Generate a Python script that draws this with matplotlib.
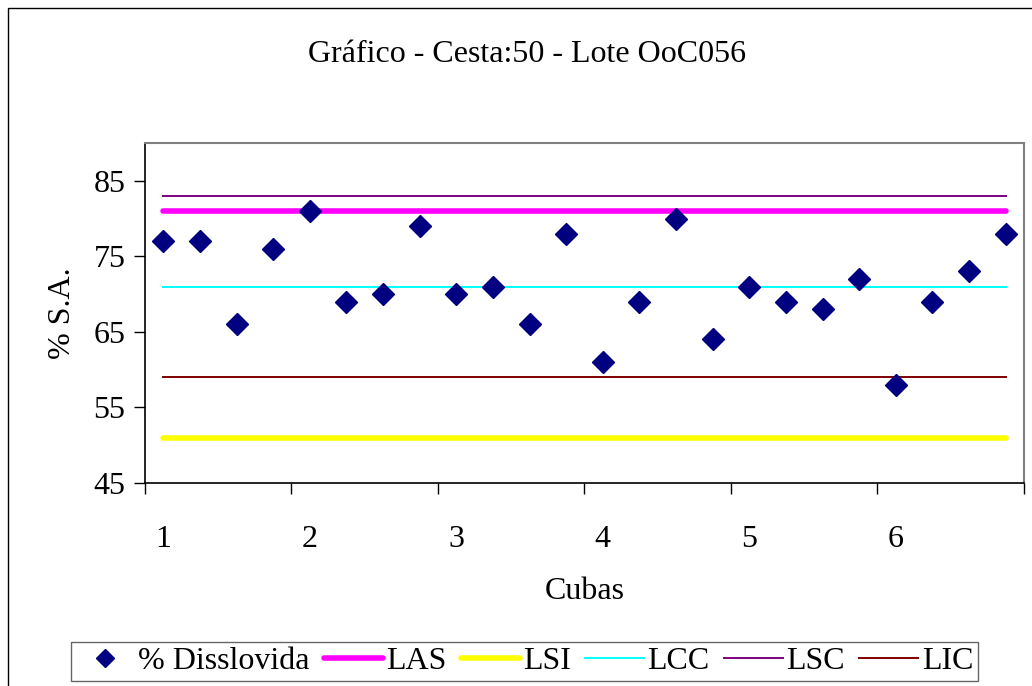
import numpy as np
import matplotlib.pyplot as plt
from matplotlib.patches import Rectangle

plt.rcParams['font.family'] = ['Liberation Serif', 'DejaVu Serif']

# Percentual dissolvido por cuba (24 cubas)
dissolvida = [77, 77, 66, 76, 81, 69, 70, 79, 70, 71, 66, 78,
              61, 69, 80, 64, 71, 69, 68, 72, 58, 69, 73, 78]
# Limites
LAS = 81
LSI = 51
LCC = 71
LSC = 83
LIC = 59
rotulos_x = ['1', '2', '3', '4', '5', '6']

n = len(dissolvida)
x = np.arange(n) + 0.5
ext = [x[0], x[-1]]

fs = 23

fig = plt.figure(figsize=(10.32, 6.86), dpi=100)
ax = fig.add_axes([0.1405, 0.2959, 0.8517, 0.4956])

ax.plot(x, dissolvida, linestyle='none', marker='D', markersize=11,
        color='#000080', label='% Disslovida', zorder=5)
ax.plot(ext, [LAS, LAS], color='#ff00ff', lw=4, solid_capstyle='round', label='LAS')
ax.plot(ext, [LSI, LSI], color='#ffff00', lw=4, solid_capstyle='round', label='LSI')
ax.plot(ext, [LCC, LCC], color='#00ffff', lw=1.4, label='LCC')
ax.plot(ext, [LSC, LSC], color='#800080', lw=1.4, label='LSC')
ax.plot(ext, [LIC, LIC], color='#800000', lw=1.4, label='LIC')

ax.set_xlim(0, n)
ax.set_ylim(45, 90)
ax.set_yticks([45, 55, 65, 75, 85])
ax.set_xticks(np.arange(0, n + 1, 4))
ax.set_xticklabels([])
ax.set_xticks(np.arange(0, n, 4) + 0.5, minor=True)
ax.set_xticklabels(rotulos_x, minor=True)
ax.tick_params(axis='x', which='minor', length=0, pad=30, labelsize=fs)
ax.tick_params(axis='x', which='major', length=8, width=1, direction='out')
ax.tick_params(axis='y', length=8, width=1, direction='out', labelsize=fs, pad=6)

for s in ['left', 'bottom']:
    ax.spines[s].set_color('black')
    ax.spines[s].set_linewidth(1.2)
for s in ['top', 'right']:
    ax.spines[s].set_color('#808080')
    ax.spines[s].set_linewidth(1.5)

ax.set_xlabel('Cubas', fontsize=fs, labelpad=17)
ax.set_ylabel('% S.A.', fontsize=fs, labelpad=12)
fig.text(0.511, 0.92, 'Gráfico - Cesta:50 - Lote OoC056', fontsize=fs,
         ha='center', va='center')

leg = fig.legend(loc='center', bbox_to_anchor=(0.508, 0.036), ncol=6, fontsize=fs,
                 handlelength=1.85, handletextpad=0.1, columnspacing=0.45,
                 borderpad=0.15, fancybox=False, frameon=True, markerscale=0.8)
leg.get_frame().set_edgecolor('#404040')
leg.get_frame().set_linewidth(1.0)

# moldura externa do gráfico
fig.patches.append(Rectangle((8 / 1032, -0.1), 1.2, 1.1 - 8 / 686,
                             transform=fig.transFigure, fill=False,
                             edgecolor='black', lw=1.0))

fig.savefig('out.png', dpi=100)
